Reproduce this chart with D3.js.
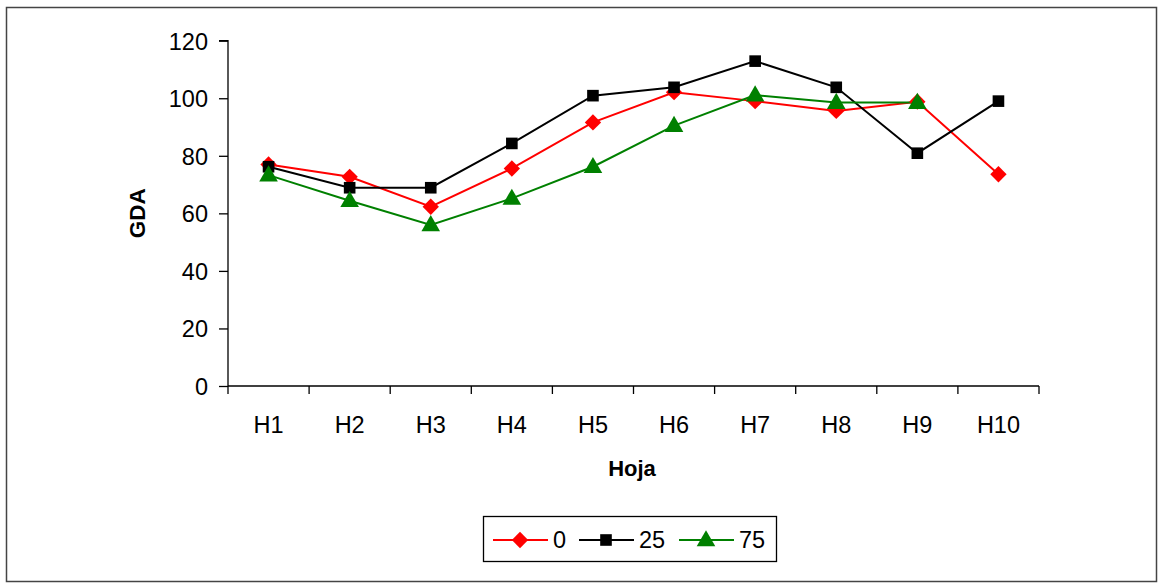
<!DOCTYPE html>
<html><head><meta charset="utf-8">
<script src="https://cdn.jsdelivr.net/npm/d3@7"></script>
<style>body{margin:0;background:#fff}svg{display:block}text{font-family:"Liberation Sans",Arial,sans-serif}</style>
</head><body><svg id="c" width="1158" height="583"></svg>
<script>
const categories = ["H1","H2","H3","H4","H5","H6","H7","H8","H9","H10"];
const series0  = [77, 72.7, 62.3, 75.6, 91.6, 102.1, 99.0, 95.6, 98.8, 73.6];
const series25 = [76.2, 68.9, 68.9, 84.3, 100.9, 103.8, 112.9, 103.8, 80.9, 99.0];
const series75 = [73.3, 64.4, 56.0, 65.2, 76.2, 90.5, 101.1, 98.5, 98.5, null];
const seriesNames = ["0","25","75"];
const yTicks = [0,20,40,60,80,100,120];

const svg = d3.select("#c");
svg.append("rect").attr("x",6.5).attr("y",7.5).attr("width",1150).attr("height",574)
  .attr("fill","#fff").attr("stroke","#444").attr("stroke-width",1.5);

const x0 = 228, x1 = 1039, yTop = 40.7, yBot = 386;
const xb = d3.scaleBand().domain(categories).range([x0,x1]).padding(0);
const y = d3.scaleLinear().domain([0,120]).range([yBot,yTop]);

// y axis
const ya = svg.append("g").attr("transform",`translate(${x0},0)`)
  .call(d3.axisLeft(y).tickValues(yTicks).tickSize(9).tickPadding(11));
ya.attr("font-family",null).attr("font-size",null);
ya.select(".domain").attr("stroke","#000").attr("stroke-width",1.3).attr("d",`M-9,${yTop}H0V${yBot}`);
ya.selectAll("line").attr("stroke","#000").attr("stroke-width",1.3);
ya.selectAll("text").style("font-size","23.5px").attr("fill","#000").attr("dy","0.36em");

// x axis
const xa = svg.append("g").attr("transform",`translate(0,${yBot})`);
xa.append("path").attr("d",`M${x0},0H${x1}`).attr("stroke","#000").attr("stroke-width",1.3);
const edges = categories.map(c=>xb(c)).concat([x1]);
xa.selectAll("line.t").data(edges).enter().append("line")
  .attr("x1",d=>d).attr("x2",d=>d).attr("y1",0).attr("y2",8).attr("stroke","#000").attr("stroke-width",1.3);
xa.selectAll("text").data(categories).enter().append("text")
  .attr("x",d=>xb(d)+xb.bandwidth()/2).attr("y",46.5).attr("text-anchor","middle")
  .style("font-size","23.5px").text(d=>d);

svg.append("text").attr("transform",`translate(145,${(yTop+yBot)/2}) rotate(-90)`)
  .attr("text-anchor","middle").style("font-size","22.5px").attr("font-weight","bold").text("GDA");
svg.append("text").attr("x",632).attr("y",476).attr("text-anchor","middle")
  .style("font-size","22px").attr("font-weight","bold").text("Hoja");

const cx = c => xb(c)+xb.bandwidth()/2;
const sym = {
  diamond: d3.symbol().type(d3.symbolDiamond2).size(170),
  square: d3.symbol().type(d3.symbolSquare).size(135),
  triangle: d3.symbol().type(d3.symbolTriangle).size(150)
};
const defs = [
  {name:seriesNames[0], vals:series0, color:"#ff0000", shape:"diamond"},
  {name:seriesNames[1], vals:series25, color:"#000000", shape:"square"},
  {name:seriesNames[2], vals:series75, color:"#008000", shape:"triangle"}
];
const line = d3.line().defined(d=>d.v!=null).x(d=>cx(d.c)).y(d=>y(d.v));
defs.forEach(s=>{
  const pts = categories.map((c,i)=>({c, v:s.vals[i]}));
  svg.append("path").datum(pts).attr("d",line).attr("fill","none")
    .attr("stroke",s.color).attr("stroke-width",2);
});
defs.forEach(s=>{
  const pts = categories.map((c,i)=>({c, v:s.vals[i]})).filter(d=>d.v!=null);
  svg.selectAll(null).data(pts).enter().append("path")
    .attr("d",sym[s.shape]).attr("fill",s.color)
    .attr("transform",d=>`translate(${cx(d.c)},${y(d.v)+(s.shape==="triangle"?1:0)})`);
});

// legend
const lg = svg.append("g");
lg.append("rect").attr("x",483.5).attr("y",516.5).attr("width",293).attr("height",45)
  .attr("fill","#fff").attr("stroke","#000").attr("stroke-width",1.3);
const lx = [493, 579, 679];
defs.forEach((s,i)=>{
  const ly = 540;
  lg.append("line").attr("x1",lx[i]).attr("x2",lx[i]+55).attr("y1",ly).attr("y2",ly)
    .attr("stroke",s.color).attr("stroke-width",2);
  lg.append("path").attr("d",sym[s.shape]).attr("fill",s.color)
    .attr("transform",`translate(${lx[i]+27},${ly+(s.shape==="triangle"?1:0)})`);
  lg.append("text").attr("x",lx[i]+60).attr("y",ly).attr("dy","0.36em")
    .style("font-size","23.5px").text(s.name);
});
</script></body></html>
